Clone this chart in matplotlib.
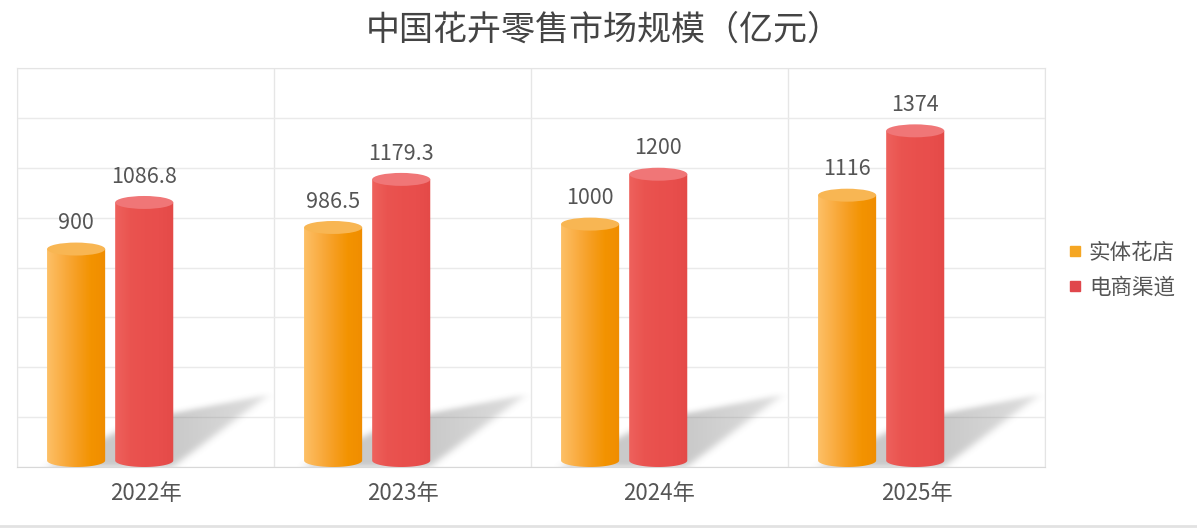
import numpy as np
import matplotlib
matplotlib.use("Agg")
import matplotlib.pyplot as plt
from matplotlib.path import Path
from matplotlib.patches import PathPatch, Ellipse
from matplotlib.colors import LinearSegmentedColormap
from matplotlib.lines import Line2D

plt.rcParams["font.family"] = ["Noto Sans CJK SC", "DejaVu Sans"]

years = ["2022年", "2023年", "2024年", "2025年"]
store = [900, 986.5, 1000, 1116]
online = [1086.8, 1179.3, 1200, 1374]
store_labels = ["900", "986.5", "1000", "1116"]
online_labels = ["1086.8", "1179.3", "1200", "1374"]
series_names = ["实体花店", "电商渠道"]

orange_cmap = LinearSegmentedColormap.from_list(
    "orange", ["#FDC067", "#FAAE45", "#F69E22", "#F39300", "#F08D00"])
red_cmap = LinearSegmentedColormap.from_list(
    "red", ["#EE625D", "#EA5450", "#E9504D", "#E84E4C", "#E44A48"])
orange_top = "#F8B653"
red_top = "#F07677"

BAR_W = 0.226
RY = 26  # half height of the top ellipse, in data units
TEXT = "#555555"


def cylinder(ax, xc, h, cmap, top_color):
    x0, x1 = xc - BAR_W / 2, xc + BAR_W / 2
    t = np.linspace(np.pi, 2 * np.pi, 60)
    bottom = np.column_stack([xc + BAR_W / 2 * np.cos(t), RY + RY * np.sin(t)])
    verts = np.vstack([[x0, h - RY], bottom, [x1, h - RY], [x0, h - RY]])
    clip = PathPatch(Path(verts), facecolor="none", edgecolor="none")
    ax.add_patch(clip)
    grad = np.linspace(0, 1, 256).reshape(1, -1)
    im = ax.imshow(grad, cmap=cmap, extent=(x0, x1, 0, h), aspect="auto",
                   origin="lower", zorder=3, interpolation="bicubic")
    im.set_clip_path(clip)
    ax.add_patch(Ellipse((xc, h - RY), BAR_W, 2 * RY, facecolor=top_color,
                         edgecolor="none", zorder=4))


def box_blur(a, k, axis):
    kern = np.ones(k) / k
    return np.apply_along_axis(lambda v: np.convolve(v, kern, mode="same"), axis, a)


def shadow(ax, i, x_left, x_right):
    # soft cast shadow behind the bar pair, leaning up and to the right
    quad = Path([[x_left, 0], [x_right, 0], [i + 0.48, 290], [i - 0.02, 190]])
    xs = np.linspace(i - 0.5, i + 0.5, 260)
    ys = np.linspace(-40, 420, 115)
    X, Y = np.meshgrid(xs, ys)
    m = quad.contains_points(np.column_stack([X.ravel(), Y.ravel()]))
    m = m.reshape(X.shape).astype(float)
    for _ in range(3):
        m = box_blur(m, 9, 1)
        m = box_blur(m, 5, 0)
    fade = 1 - 0.4 * np.clip((X - x_right) / (i + 0.48 - x_right), 0, 1)
    rgba = np.zeros(m.shape + (4,))
    rgba[..., :3] = 0.5
    rgba[..., 3] = m * fade * 0.42
    ax.imshow(rgba, extent=(i - 0.5, i + 0.5, -40, 420), origin="lower",
              aspect="auto", zorder=2, interpolation="bilinear")


fig = plt.figure(figsize=(11.97, 5.30), dpi=100)
ax = fig.add_axes([17 / 1197, 1 - 467 / 530, (1045 - 17) / 1197, (467 - 68) / 530])

x = np.arange(len(years))
for i in x:
    xo = i - 0.27
    xr = i - 0.005
    shadow(ax, i, xo - BAR_W / 2, xr + BAR_W / 2)
    cylinder(ax, xo, store[i], orange_cmap, orange_top)
    cylinder(ax, xr, online[i], red_cmap, red_top)
    ax.annotate(store_labels[i], (xo, store[i]), xytext=(0, 6),
                textcoords="offset points", ha="center", va="bottom",
                fontsize=15.5, color=TEXT, zorder=5)
    ax.annotate(online_labels[i], (xr, online[i]), xytext=(0, 6),
                textcoords="offset points", ha="center", va="bottom",
                fontsize=15.5, color=TEXT, zorder=5)

ax.set_xlim(-0.5, len(years) - 0.5)
ax.set_ylim(0, 1600)
ax.set_yticks(np.arange(0, 1601, 200))
ax.set_yticklabels([])
ax.set_xticks(x)
ax.set_xticklabels(years, fontsize=16, color=TEXT)
ax.set_xticks(np.arange(-0.5, len(years)), minor=True)
ax.tick_params(axis="both", which="both", length=0)
ax.tick_params(axis="x", pad=11)
ax.grid(axis="y", color="#EAEAEA", linewidth=1)
ax.grid(axis="x", which="minor", color="#E6E6E6", linewidth=1)
ax.grid(axis="x", which="major", visible=False)
ax.set_axisbelow(True)
for name, sp in ax.spines.items():
    sp.set_color("#E4E4E4")
ax.spines["bottom"].set_color("#D8D8D8")

fig.text(0.504, 1 - 30 / 530, "中国花卉零售市场规模（亿元）", ha="center",
         va="center", fontsize=24.5, color="#444444")

handles = [Line2D([], [], marker="s", linestyle="none", markersize=7,
                  color="#F5A623"),
           Line2D([], [], marker="s", linestyle="none", markersize=7,
                  color="#E0474C")]
fig.legend(handles, series_names, loc="center left",
           bbox_to_anchor=(1049 / 1197, 1 - 270 / 530), frameon=False,
           fontsize=15.5, handlelength=0.6, handletextpad=0.35,
           labelspacing=0.6, labelcolor=TEXT)

fig.add_artist(Line2D([0, 1], [1 - 526 / 530] * 2, color="#E2E2E2",
                      linewidth=2, transform=fig.transFigure))

fig.savefig("out.png", dpi=100)
